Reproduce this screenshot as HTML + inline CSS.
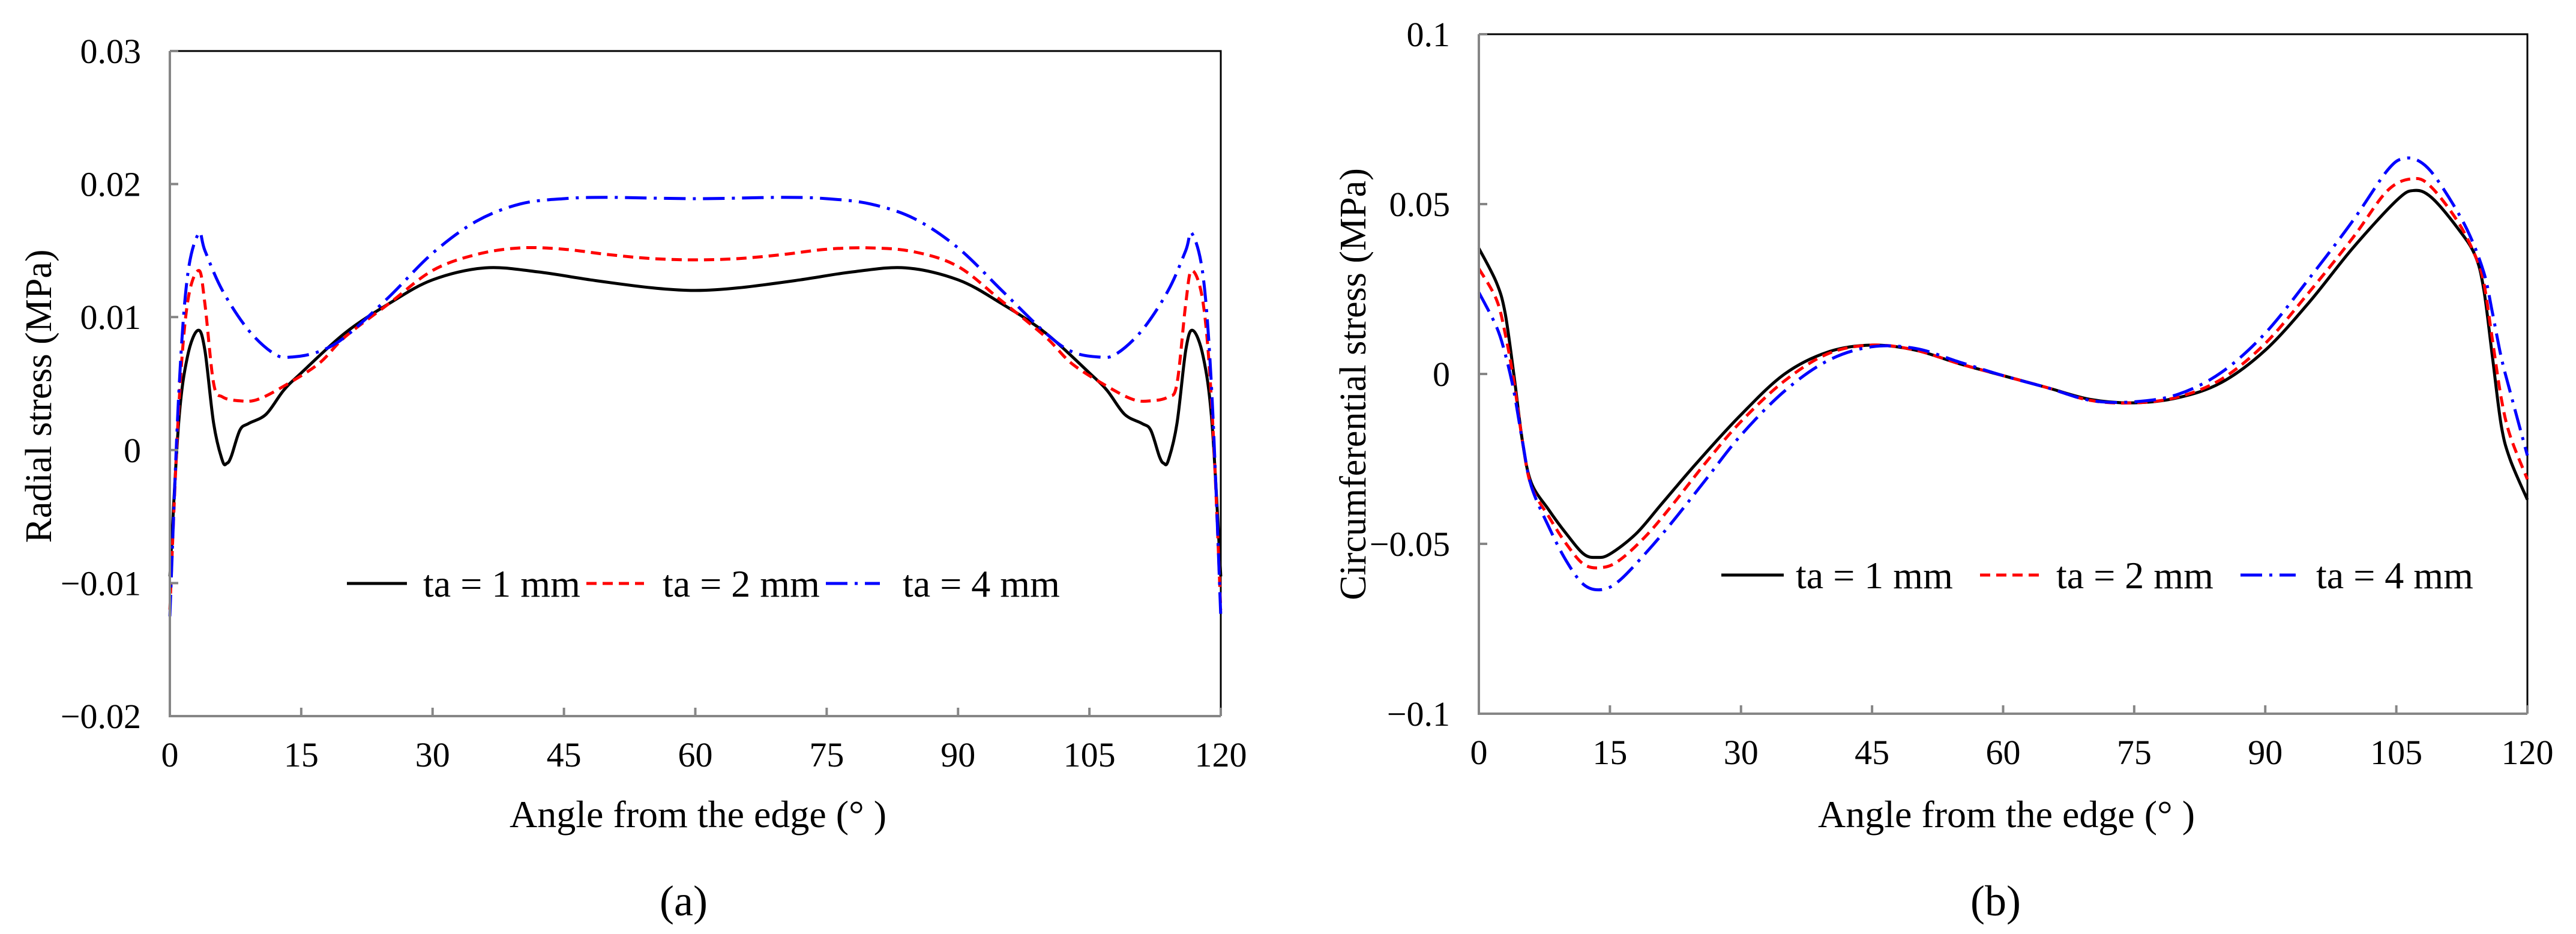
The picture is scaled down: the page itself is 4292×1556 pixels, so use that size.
<!DOCTYPE html>
<html><head><meta charset="utf-8"><style>
html,body{margin:0;padding:0;background:#fff;}
svg{display:block;font-family:"Liberation Serif",serif;}
text{font-family:"Liberation Serif","Times New Roman",serif;}
</style></head><body>
<svg id="fig" width="4292" height="1556" viewBox="0 0 4292 1556"></svg>
<script>
const xTicks=[0,15,30,45,60,75,90,105,120];
const aTicks=[0.03,0.02,0.01,0,-0.01,-0.02];
const aTickLabels=["0.03","0.02","0.01","0","\u22120.01","\u22120.02"];
const bTicks=[0.1,0.05,0,-0.05,-0.1];
const bTickLabels=["0.1","0.05","0","\u22120.05","\u22120.1"];
const seriesNames=["ta = 1 mm","ta = 2 mm","ta = 4 mm"];

const aX1=[0,1,2,3.2,4,5,6,6.5,7,8,9,11,13,15,20,25,30,36,42,48,55,60,65,72,78,84,90,95,100,105,107,109,111,112,113,113.5,114,115,116,116.8,118,119,120];
const aY1=[-0.0095,0.002,0.007,0.009,0.0075,0.002,-0.0008,-0.001,-0.0005,0.0015,0.002,0.0027,0.0045,0.0058,0.0088,0.011,0.0128,0.0137,0.0134,0.0128,0.0122,0.012,0.0122,0.0128,0.0134,0.0137,0.0128,0.011,0.0088,0.0058,0.0045,0.0027,0.002,0.0015,-0.0005,-0.001,-0.0008,0.002,0.0075,0.009,0.007,0.002,-0.0095];
const aX2=[0,1,2,3.3,4,5,6,8,10,13,17,20,25,30,35,40,45,50,55,60,65,70,75,80,85,90,95,100,103,107,110,112,114,115,116,116.7,118,119,120];
const aY2=[-0.012,0.003,0.011,0.0135,0.011,0.005,0.004,0.0037,0.0038,0.0048,0.0065,0.0085,0.011,0.0135,0.0147,0.0152,0.0151,0.0147,0.0144,0.0143,0.0144,0.0147,0.0151,0.0152,0.0149,0.0138,0.0112,0.0085,0.0065,0.0048,0.0038,0.0037,0.004,0.005,0.011,0.0135,0.011,0.003,-0.012];
const aX3=[0,1,2,3.3,4,6,9,12,14,17,20,25,30,35,40,45,50,60,70,75,80,85,90,95,100,103,106,108,111,114,116,116.7,118,119,120];
const aY3=[-0.0125,0.004,0.013,0.0163,0.015,0.012,0.009,0.0072,0.007,0.0074,0.0085,0.0115,0.0148,0.0172,0.0185,0.0189,0.019,0.0189,0.019,0.0189,0.0185,0.0174,0.0152,0.012,0.0088,0.0074,0.007,0.0072,0.009,0.012,0.015,0.0163,0.013,0.004,-0.0125];

const bX1=[0,2,3,4,5,6,8,10,12,13.5,15,18,21,25,30,35,40,45,50,55,60,65,70,75,80,85,90,95,100,105,107,109,112,114,115,116,117,118,120];
const bY1=[0.037,0.027,0.018,0.0,-0.02,-0.032,-0.04,-0.047,-0.053,-0.054,-0.053,-0.047,-0.038,-0.026,-0.012,0.0,0.0065,0.0085,0.007,0.003,-0.0005,-0.004,-0.0075,-0.0085,-0.007,-0.0025,0.007,0.021,0.037,0.051,0.054,0.052,0.043,0.035,0.025,0.005,-0.015,-0.025,-0.037];
const bX2=[0,2,3,4,5,6,8,10,12,14,16,19,22,26,30,35,40,45,50,55,60,65,70,75,80,85,90,95,100,104,107,109,112,114,115,116,117,118,120];
const bY2=[0.031,0.022,0.012,-0.002,-0.02,-0.033,-0.042,-0.05,-0.056,-0.057,-0.055,-0.048,-0.039,-0.026,-0.014,-0.002,0.006,0.0085,0.007,0.003,-0.0005,-0.004,-0.0078,-0.0085,-0.0068,-0.0015,0.009,0.024,0.04,0.054,0.0575,0.055,0.045,0.035,0.027,0.01,-0.007,-0.018,-0.031];
const bX3=[0,2,3,4,5,6,8,10,12,14,16,19,22,26,30,35,40,45,50,55,60,65,70,75,80,85,90,95,100,104,106,108,110,113,115,116,117,118,120];
const bY3=[0.024,0.014,0.006,-0.005,-0.02,-0.033,-0.045,-0.055,-0.062,-0.0635,-0.061,-0.053,-0.044,-0.031,-0.018,-0.005,0.004,0.008,0.0075,0.0035,-0.0005,-0.004,-0.0078,-0.0082,-0.006,0.0005,0.012,0.028,0.045,0.06,0.0635,0.062,0.056,0.043,0.03,0.018,0.005,-0.005,-0.024];

const NS="http://www.w3.org/2000/svg";
const svg=document.getElementById('fig');
const FF='"Liberation Serif", "Times New Roman", serif';
function mk(tag,attrs,parent){const e=document.createElementNS(NS,tag);for(const k in attrs)e.setAttribute(k,attrs[k]);if(tag==='text')e.setAttribute('font-family',FF);(parent||svg).appendChild(e);return e;}
const styles=[{stroke:"#000",dash:""},{stroke:"#ff0000",dash:"17 10"},{stroke:"#0000ff",dash:"36 12 5 12"}];

function smooth(pts){
  let d="M"+pts[0][0].toFixed(1)+","+pts[0][1].toFixed(1);
  for(let i=0;i<pts.length-1;i++){
    const p0=pts[i-1]||pts[i],p1=pts[i],p2=pts[i+1],p3=pts[i+2]||pts[i+1];
    const t=1/6;
    const c1=[p1[0]+(p2[0]-p0[0])*t,p1[1]+(p2[1]-p0[1])*t];
    const c2=[p2[0]-(p3[0]-p1[0])*t,p2[1]-(p3[1]-p1[1])*t];
    d+="C"+c1[0].toFixed(1)+","+c1[1].toFixed(1)+" "+c2[0].toFixed(1)+","+c2[1].toFixed(1)+" "+p2[0].toFixed(1)+","+p2[1].toFixed(1);
  }
  return d;
}

function chart(cfg){
  const g=mk('g',{});
  
  
  const sx=v=>cfg.x0+(v-0)/120*(cfg.x1-cfg.x0);
  const sy=v=>cfg.yb+(v-cfg.ymin)/(cfg.ymax-cfg.ymin)*(cfg.yt-cfg.yb);
  const fr=mk('path',{d:`M${cfg.x0},${cfg.yt}H${cfg.x1}V${cfg.yb}`,fill:"none",stroke:"#000","stroke-width":3},g);
  
  
  const X=cfg.xs,Y=cfg.ys;
  for(let s=0;s<3;s++){
    const pts=X[s].map((x,i)=>[sx(x),sy(Y[s][i])]);
    const p=mk('path',{d:smooth(pts),fill:"none",stroke:styles[s].stroke,"stroke-width":5,"stroke-dasharray":styles[s].dash},g);
    
    
  }
  const ax=mk('path',{d:`M${cfg.x0},${cfg.yt}V${cfg.yb}H${cfg.x1}`,fill:"none",stroke:"#868686","stroke-width":4},g);
  
  
  xTicks.forEach(v=>{
    const x=sx(v);
    mk('line',{x1:x,x2:x,y1:cfg.yb,y2:cfg.yb-14,stroke:"#868686","stroke-width":4},g);
    const t=mk('text',{x:x,y:cfg.yb+84,"text-anchor":"middle","font-size":58},g);
    t.textContent=v;
    
    
  });
  cfg.yticks.forEach((v,i)=>{
    const y=sy(v);
    mk('line',{x1:cfg.x0,x2:cfg.x0+14,y1:y,y2:y,stroke:"#868686","stroke-width":4},g);
    const t=mk('text',{x:cfg.x0-48,y:y+20,"text-anchor":"end","font-size":58},g);
    t.textContent=cfg.ylabels[i];
    
    
  });
  const xt=mk('text',{x:cfg.xtc,y:1378,"text-anchor":"middle","font-size":64},g);
  xt.textContent="Angle from the edge (\u00b0  )";
  
  
  const yt=mk('text',{x:0,y:0,"text-anchor":"middle","font-size":62,transform:`translate(${cfg.ytx},${cfg.yty}) rotate(-90)`},g);
  yt.textContent=cfg.ytitle;
  
  
  const cap=mk('text',{x:cfg.capx,y:1525,"text-anchor":"middle","font-size":72},g);
  cap.textContent=cfg.cap;
  
  
  for(let s=0;s<3;s++){
    const L=cfg.leg[s];
    const lg=mk('g',{},g);
    
    
    mk('line',{x1:L[0],x2:L[1],y1:cfg.legy,y2:cfg.legy,stroke:styles[s].stroke,"stroke-width":5,"stroke-dasharray":styles[s].dash},lg);
    const t=mk('text',{x:L[2],y:cfg.legy+22,"font-size":64},lg);
    t.textContent=seriesNames[s];
  }
}

chart({name:'chart-a-radial-stress',x0:283,x1:2034,yt:85,yb:1193,ymin:-0.02,ymax:0.03,
  yticks:aTicks,ylabels:aTickLabels,xs:[aX1,aX2,aX3],ys:[aY1,aY2,aY3],
  xtc:1163,ytx:85,yty:660,ytitle:"Radial stress (MPa)",capx:1139,cap:"(a)",
  legy:972,leg:[[578,678,705],[977,1073,1104],[1376,1466,1504]]});
chart({name:'chart-b-circumferential-stress',x0:2464,x1:4211,yt:57,yb:1189,ymin:-0.1,ymax:0.1,
  yticks:bTicks,ylabels:bTickLabels,xs:[bX1,bX2,bX3],ys:[bY1,bY2,bY3],
  xtc:3343,ytx:2275,yty:640,ytitle:"Circumferential stress (MPa)",capx:3325,cap:"(b)",
  legy:958,leg:[[2868,2972,2992],[3299,3398,3426],[3733,3825,3859]]});
</script>
</body></html>
